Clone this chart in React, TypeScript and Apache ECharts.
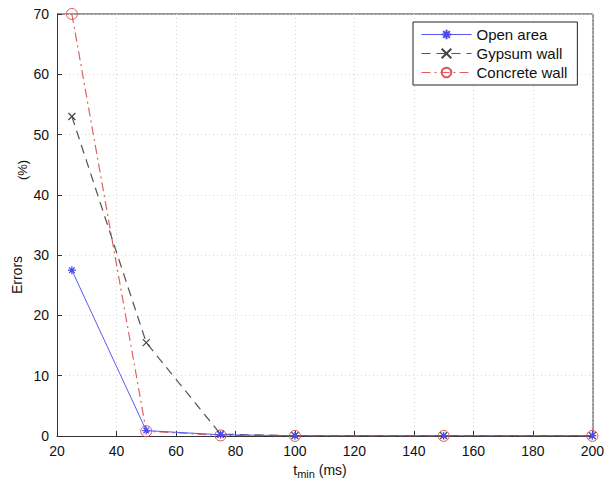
import React, { useEffect, useRef } from "react";
import * as echarts from "echarts";

const xValues = [25, 50, 75, 100, 150, 200];
const openArea = [27.5, 0.9, 0.2, 0.05, 0.05, 0.05];
const gypsumWall = [53, 15.5, 0.3, 0.05, 0.05, 0.05];
const concreteWall = [70, 0.8, 0.1, 0.02, 0.02, 0.02];
const seriesNames = ["Open area", "Gypsum wall", "Concrete wall"];

const asterisk = "path://M0,-10L0,10M-10,0L10,0M-7,-7L7,7M-7,7L7,-7";
const cross = "path://M-10,-10L10,10M-10,10L10,-10";

export default function App() {
  const ref = useRef<HTMLDivElement>(null);
  useEffect(() => {
    if (!ref.current) return;
    const chart = echarts.init(ref.current, undefined, { renderer: "svg" });
    const font = "Liberation Sans, Arial, Helvetica, sans-serif";
    const pair = (ys: number[]) => xValues.map((x, i) => [x, ys[i]]);
    chart.setOption({
      animation: false,
      backgroundColor: "#ffffff",
      textStyle: { fontFamily: font },
      grid: { left: 57, right: 14, top: 14, bottom: 49, containLabel: false },
      xAxis: {
        type: "value",
        min: 20,
        max: 200,
        interval: 20,
        axisLine: { show: true, lineStyle: { color: "#333", width: 1 } },
        axisTick: { show: true, inside: true, length: 5, lineStyle: { color: "#333" } },
        axisLabel: { color: "#111", fontSize: 14, margin: 8, fontFamily: font },
        splitLine: { show: true, lineStyle: { color: "#d4d4d4", type: [1, 3], width: 1 } },
      },
      yAxis: {
        type: "value",
        min: 0,
        max: 70,
        interval: 10,
        axisLine: { show: true, lineStyle: { color: "#333", width: 1 } },
        axisTick: { show: true, inside: true, length: 5, lineStyle: { color: "#333" } },
        axisLabel: { color: "#111", fontSize: 14, margin: 8, fontFamily: font },
        splitLine: { show: true, lineStyle: { color: "#d4d4d4", type: [1, 3], width: 1 } },
      },
      legend: {
        orient: "vertical",
        left: 413,
        top: 22,
        backgroundColor: "#ffffff",
        borderColor: "#222",
        borderWidth: 1,
        borderRadius: 0,
        padding: [5, 10, 5, 8],
        itemGap: 4,
        itemWidth: 50,
        itemHeight: 12,
        lineStyle: { width: 1 },
        textStyle: { fontSize: 15, color: "#111", fontFamily: font },
        data: seriesNames,
      },
      graphic: [
        {
          type: "text",
          x: 17,
          y: 275,
          rotation: Math.PI / 2,
          style: { text: "Errors", fontSize: 14, fill: "#111", font: `14px ${font}`, align: "center", verticalAlign: "middle" },
        },
        {
          type: "text",
          x: 22,
          y: 170,
          rotation: Math.PI / 2,
          style: { text: "(%)", fontSize: 13, fill: "#111", font: `13px ${font}`, align: "center", verticalAlign: "middle" },
        },
        {
          type: "text",
          x: 320,
          y: 470,
          style: {
            text: "{a|t}{b|min}{a| (ms)}",
            align: "center",
            verticalAlign: "middle",
            rich: {
              a: { fontSize: 14, fill: "#111", fontFamily: font },
              b: { fontSize: 11, fill: "#111", fontFamily: font, padding: [8, 0, 0, 0] },
            },
          },
        },
        {
          type: "line",
          shape: { x1: 57, y1: 14, x2: 593, y2: 14 },
          style: { stroke: "#333", lineWidth: 1 },
        },
        {
          type: "line",
          shape: { x1: 593, y1: 14, x2: 593, y2: 436 },
          style: { stroke: "#333", lineWidth: 1 },
        },
      ],
      series: [
        {
          name: seriesNames[0],
          type: "line",
          data: pair(openArea),
          symbol: asterisk,
          symbolSize: 8,
          lineStyle: { color: "#5a5af0", width: 1, type: "solid" },
          itemStyle: { color: "transparent", borderColor: "#4a4af0", borderWidth: 1.2 },
          z: 4,
        },
        {
          name: seriesNames[1],
          type: "line",
          data: pair(gypsumWall),
          symbol: cross,
          symbolSize: 7,
          lineStyle: { color: "#555555", width: 1.2, type: [9, 6] },
          itemStyle: { color: "transparent", borderColor: "#444", borderWidth: 1.2 },
          z: 3,
        },
        {
          name: seriesNames[2],
          type: "line",
          data: pair(concreteWall),
          symbol: "circle",
          symbolSize: 11,
          showAllSymbol: true,
          lineStyle: { color: "#e06060", width: 1.2, type: [9, 4, 2, 4] },
          itemStyle: { color: "transparent", borderColor: "#e05555", borderWidth: 1 },
          z: 2,
        },
      ],
    });
    return () => chart.dispose();
  }, []);
  return <div ref={ref} style={{ width: 607, height: 485, position: "absolute", left: 0, top: 0 }} />;
}
